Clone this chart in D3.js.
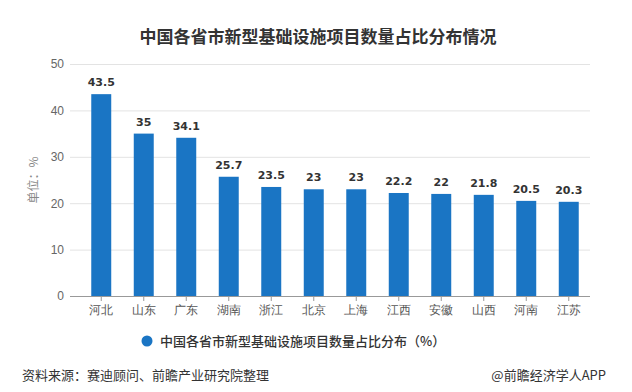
<!DOCTYPE html>
<html>
<head>
<meta charset="utf-8">
<script src="https://cdn.jsdelivr.net/npm/d3@7"></script>
<style>
  body { margin: 0; background: #fff; }
  svg { display: block; font-family: "Noto Sans CJK SC", "Microsoft YaHei", sans-serif; }
</style>
</head>
<body>
<svg id="chart"></svg>
<script>
// data
var provinces = ["河北", "山东", "广东", "湖南", "浙江", "北京", "上海", "江西", "安徽", "山西", "河南", "江苏"];
var shares = [43.5, 35, 34.1, 25.7, 23.5, 23, 23, 22.2, 22, 21.8, 20.5, 20.3];
var yTicks = [0, 10, 20, 30, 40, 50];

var W = 632, H = 392;
var barColor = "#1a75c4";

var svg = d3.select("#chart")
	.attr("width", W)
	.attr("height", H)
	.attr("viewBox", [0, 0, W, H]);

var x = d3.scaleBand()
	.domain(provinces)
	.range([80, 590])
	.paddingInner(0.53)
	.paddingOuter(0.265);

var y = d3.scaleLinear()
	.domain([0, 50])
	.range([296, 64]);

// title
svg.append("text")
	.attr("x", 318)
	.attr("y", 43)
	.attr("text-anchor", "middle")
	.attr("font-size", 17)
	.attr("font-weight", "bold")
	.attr("fill", "#333")
	.text("中国各省市新型基础设施项目数量占比分布情况");

// gridlines + y labels
var yAxis = svg.append("g")
	.attr("transform", "translate(70,0)")
	.call(d3.axisLeft(y).tickValues(yTicks).tickSize(-520).tickPadding(6));
yAxis.select(".domain").remove();
yAxis.selectAll(".tick line").attr("stroke", "#e3e3e3");
yAxis.selectAll(".tick text")
	.attr("fill", "#666")
	.attr("font-size", 12)
	.attr("font-family", "Arial, 'Liberation Sans', sans-serif");

// y axis title
svg.append("text")
	.attr("transform", "translate(38,180) rotate(-90)")
	.attr("text-anchor", "middle")
	.attr("font-size", 12)
	.attr("fill", "#888")
	.text("单位：%");

// bars
svg.append("g")
	.selectAll("rect")
	.data(shares)
	.join("rect")
		.attr("x", (d, i) => x(provinces[i]))
		.attr("y", d => y(d))
		.attr("width", x.bandwidth())
		.attr("height", d => y(0) - y(d))
		.attr("fill", barColor);

// value labels
svg.append("g")
	.selectAll("text")
	.data(shares)
	.join("text")
		.attr("x", (d, i) => x(provinces[i]) + x.bandwidth() / 2)
		.attr("y", d => y(d) - 8)
		.attr("text-anchor", "middle")
		.attr("font-size", 11)
		.attr("font-weight", "bold")
		.attr("fill", "#333")
		.attr("font-family", "Verdana, 'DejaVu Sans', sans-serif")
		.text(d => d);

// x axis
var xAxis = svg.append("g")
	.attr("transform", "translate(0," + y(0) + ")")
	.call(d3.axisBottom(x).tickSize(5).tickPadding(4).tickSizeOuter(0));
xAxis.select(".domain").attr("d", "M70,0.5H590").attr("stroke", "#999");
xAxis.selectAll(".tick line").attr("stroke", "#999");
xAxis.selectAll(".tick text")
	.attr("fill", "#555")
	.attr("font-size", 12);

// legend
svg.append("circle")
	.attr("cx", 147)
	.attr("cy", 341)
	.attr("r", 5.5)
	.attr("fill", barColor);
svg.append("text")
	.attr("x", 160)
	.attr("y", 345.5)
	.attr("font-size", 13)
	.attr("font-weight", 500)
	.attr("fill", "#333")
	.text("中国各省市新型基础设施项目数量占比分布（%）");

// footer
svg.append("text")
	.attr("x", 22)
	.attr("y", 380)
	.attr("font-size", 13)
	.attr("fill", "#333")
	.text("资料来源：赛迪顾问、前瞻产业研究院整理");
svg.append("text")
	.attr("x", 606)
	.attr("y", 380)
	.attr("text-anchor", "end")
	.attr("font-size", 13)
	.attr("fill", "#333")
	.text("@前瞻经济学人APP");
</script>
</body>
</html>
